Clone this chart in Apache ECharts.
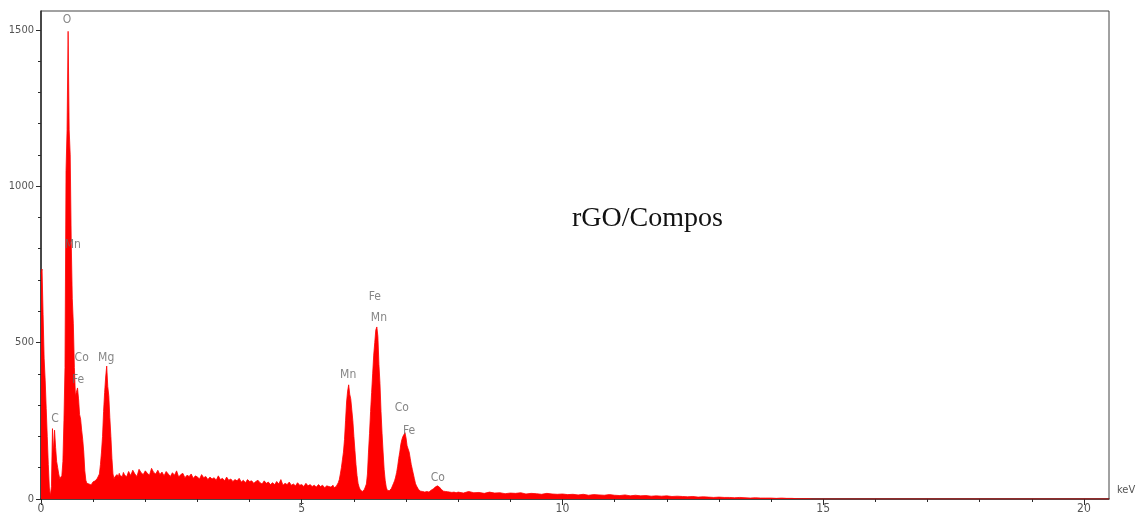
<!DOCTYPE html>
<html>
<head>
<meta charset="utf-8">
<script src="https://cdn.jsdelivr.net/npm/echarts@6/dist/echarts.min.js"></script>
<style>
  html, body { margin: 0; padding: 0; background: #fff; }
  #chart { width: 1138px; height: 520px; }
</style>
</head>
<body>
<div id="chart"></div>
<script>
// EDS spectrum, counts per channel
// 0 - 1.58 keV, 0.02 keV channels
const lowStart = 0, lowStep = 0.02
const lowCounts = [
  720, 735, 590, 450, 380, 290, 200, 110, 35, 10,
  40, 225, 150, 220, 165, 120, 100, 80, 65, 60,
  75, 120, 250, 420, 1050, 1180, 1495, 1180, 1100, 820,
  640, 560, 420, 330, 330, 355, 320, 270, 255, 220,
  190, 150, 90, 60, 50, 55, 48, 52, 45, 50,
  55, 60, 58, 62, 66, 70, 80, 110, 150, 200,
  280, 340, 390, 425, 360, 330, 260, 200, 130, 80,
  65, 72, 68, 78, 70, 82, 74, 80, 72, 85
]
// 1.60 - 5.56 keV background, 0.04 keV channels
const bgStart = 1.60, bgStep = 0.04
const bgCounts = [
  78, 70, 88, 75, 92, 80, 72, 95, 84, 78, 90,
  82, 76, 98, 85, 80, 92, 78, 86, 74, 88,
  80, 72, 84, 76, 90, 70, 78, 82, 68, 76,
  72, 80, 66, 74, 70, 64, 78, 68, 72, 62,
  70, 64, 68, 60, 74, 62, 66, 58, 70, 60,
  64, 56, 62, 58, 66, 54, 60, 52, 62, 56,
  58, 50, 56, 60, 52, 48, 58, 50, 54, 46,
  52, 46, 56, 48, 62, 44, 50, 46, 54, 44,
  48, 42, 52, 44, 46, 40, 50, 42, 46, 40,
  44, 38, 46, 40, 44, 36, 42, 40, 38
]
// 5.58 - 7.96 keV (Mn, Fe, Co K lines), 0.02 keV channels
const kStart = 5.58, kStep = 0.02
const kCounts = [
  38, 44, 36, 42, 40, 46, 52, 62, 80, 100,
  125, 150, 190, 250, 310, 345, 365, 335, 320, 285,
  250, 200, 155, 110, 75, 50, 38, 30, 28, 24,
  26, 30, 36, 48, 80, 150, 210, 280, 340, 400,
  460, 500, 540, 550, 520, 430, 370, 280, 210, 150,
  95, 60, 38, 28, 24, 26, 30, 34, 42, 50,
  58, 70, 85, 105, 130, 150, 175, 190, 200, 205,
  212, 195, 170, 160, 150, 130, 110, 95, 80, 65,
  50, 42, 36, 30, 28, 25, 28, 24, 26, 22,
  27, 24, 25, 22, 26, 28, 30, 32, 35, 38,
  40, 42, 40, 38, 34, 30, 27, 25, 22, 24,
  21, 23, 20, 22, 19, 21, 18, 22, 19, 20
]
// 8.0 - 15.0 keV tail, 0.1 keV channels
const tailStart = 8.0, tailStep = 0.1
const tailCounts = [
  22, 19, 24, 20, 21, 18, 22, 19, 20, 17,
  19, 18, 20, 16, 18, 17, 15, 18, 16, 15,
  16, 14, 15, 13, 15, 12, 14, 13, 12, 14,
  12, 11, 13, 10, 12, 10, 11, 9, 10, 9,
  10, 8, 9, 8, 7, 8, 6, 7, 6, 5,
  6, 5, 5, 4, 5, 4, 3, 4, 3, 3,
  3, 2, 3, 2, 2, 1, 1, 1, 0, 0, 0
]

// peak annotations (label anchor in keV / counts)
const peakNames = ['O', 'Mn', 'C', 'Co', 'Fe', 'Mg', 'Mn', 'Fe', 'Mn', 'Co', 'Fe', 'Co']
const peakKeV = [0.50, 0.61, 0.27, 0.78, 0.71, 1.25, 5.89, 6.40, 6.48, 6.92, 7.06, 7.61]
const peakLabelY = [1532, 812, 256, 451, 381, 451, 397, 647, 580, 291, 217, 67]

const xMajor = [0, 5, 10, 15, 20]
const xMinor = [1, 2, 3, 4, 6, 7, 8, 9, 11, 12, 13, 14, 16, 17, 18, 19]
const yMajor = [0, 500, 1000, 1500]
const yMinor = [100, 200, 300, 400, 600, 700, 800, 900, 1100, 1200, 1300, 1400]

const xMax = 20.48
const yMax = 1560

function channels(start, step, counts) {
  return counts.map((c, i) => [+(start + i * step).toFixed(2), c])
}

const spectrum = []
  .concat(channels(lowStart, lowStep, lowCounts))
  .concat(channels(bgStart, bgStep, bgCounts))
  .concat(channels(kStart, kStep, kCounts))
  .concat(channels(tailStart, tailStep, tailCounts))
spectrum.push([xMax, 0])

const peakData = peakNames.map((n, i) => ({ name: n, value: [peakKeV[i], peakLabelY[i]] }))

const narrow = '"Liberation Sans Narrow", "DejaVu Sans Condensed", "Liberation Sans", sans-serif'
const axisColor = '#2b2b2b'

var myChart = echarts.init(document.getElementById('chart'))
myChart.setOption({
  animation: false,
  grid: { left: 41, right: 29, top: 11, bottom: 21, show: true, borderColor: '#444', borderWidth: 1 },
  xAxis: [
    {
      type: 'value', min: 0, max: xMax,
      axisLine: { show: true, lineStyle: { color: axisColor, width: 1.5 } },
      axisTick: { show: true, length: 6, customValues: xMajor, lineStyle: { color: axisColor } },
      axisLabel: { customValues: xMajor, margin: 4, fontFamily: narrow, fontSize: 12, color: '#555', formatter: v => String(v) },
      splitLine: { show: false }
    },
    {
      type: 'value', min: 0, max: xMax, position: 'bottom',
      axisLine: { show: false },
      axisTick: { show: true, length: 3, customValues: xMinor, lineStyle: { color: axisColor } },
      axisLabel: { show: false },
      splitLine: { show: false }
    }
  ],
  yAxis: [
    {
      type: 'value', min: 0, max: yMax,
      axisLine: { show: true, lineStyle: { color: axisColor, width: 1.5 } },
      axisTick: { show: true, length: 5, customValues: yMajor, lineStyle: { color: axisColor } },
      axisLabel: { customValues: yMajor, margin: 7, fontFamily: narrow, fontSize: 11, color: '#555', formatter: v => String(v) },
      splitLine: { show: false }
    },
    {
      type: 'value', min: 0, max: yMax, position: 'left',
      axisLine: { show: false },
      axisTick: { show: true, length: 3, customValues: yMinor, lineStyle: { color: axisColor } },
      axisLabel: { show: false },
      splitLine: { show: false }
    }
  ],
  graphic: [
    {
      type: 'text', x: 572, y: 219,
      style: { text: 'rGO/Compos', font: '28px "Liberation Serif", "Times New Roman", serif', fill: '#111', verticalAlign: 'middle' }
    },
    {
      type: 'text', x: 1117, y: 490,
      style: { text: 'keV', font: '11px ' + narrow, fill: '#555', verticalAlign: 'middle' }
    }
  ],
  series: [
    {
      type: 'line',
      data: spectrum,
      showSymbol: false,
      sampling: false,
      lineStyle: { color: '#ff0000', width: 0.8 },
      areaStyle: { color: '#ff0000', opacity: 1 },
      z: 2
    },
    {
      type: 'scatter',
      data: peakData,
      symbolSize: 0,
      silent: true,
      label: {
        show: true, position: 'inside', formatter: '{b}',
        fontFamily: narrow, fontSize: 12, color: '#666'
      },
      z: 3
    }
  ]
})
</script>
</body>
</html>
